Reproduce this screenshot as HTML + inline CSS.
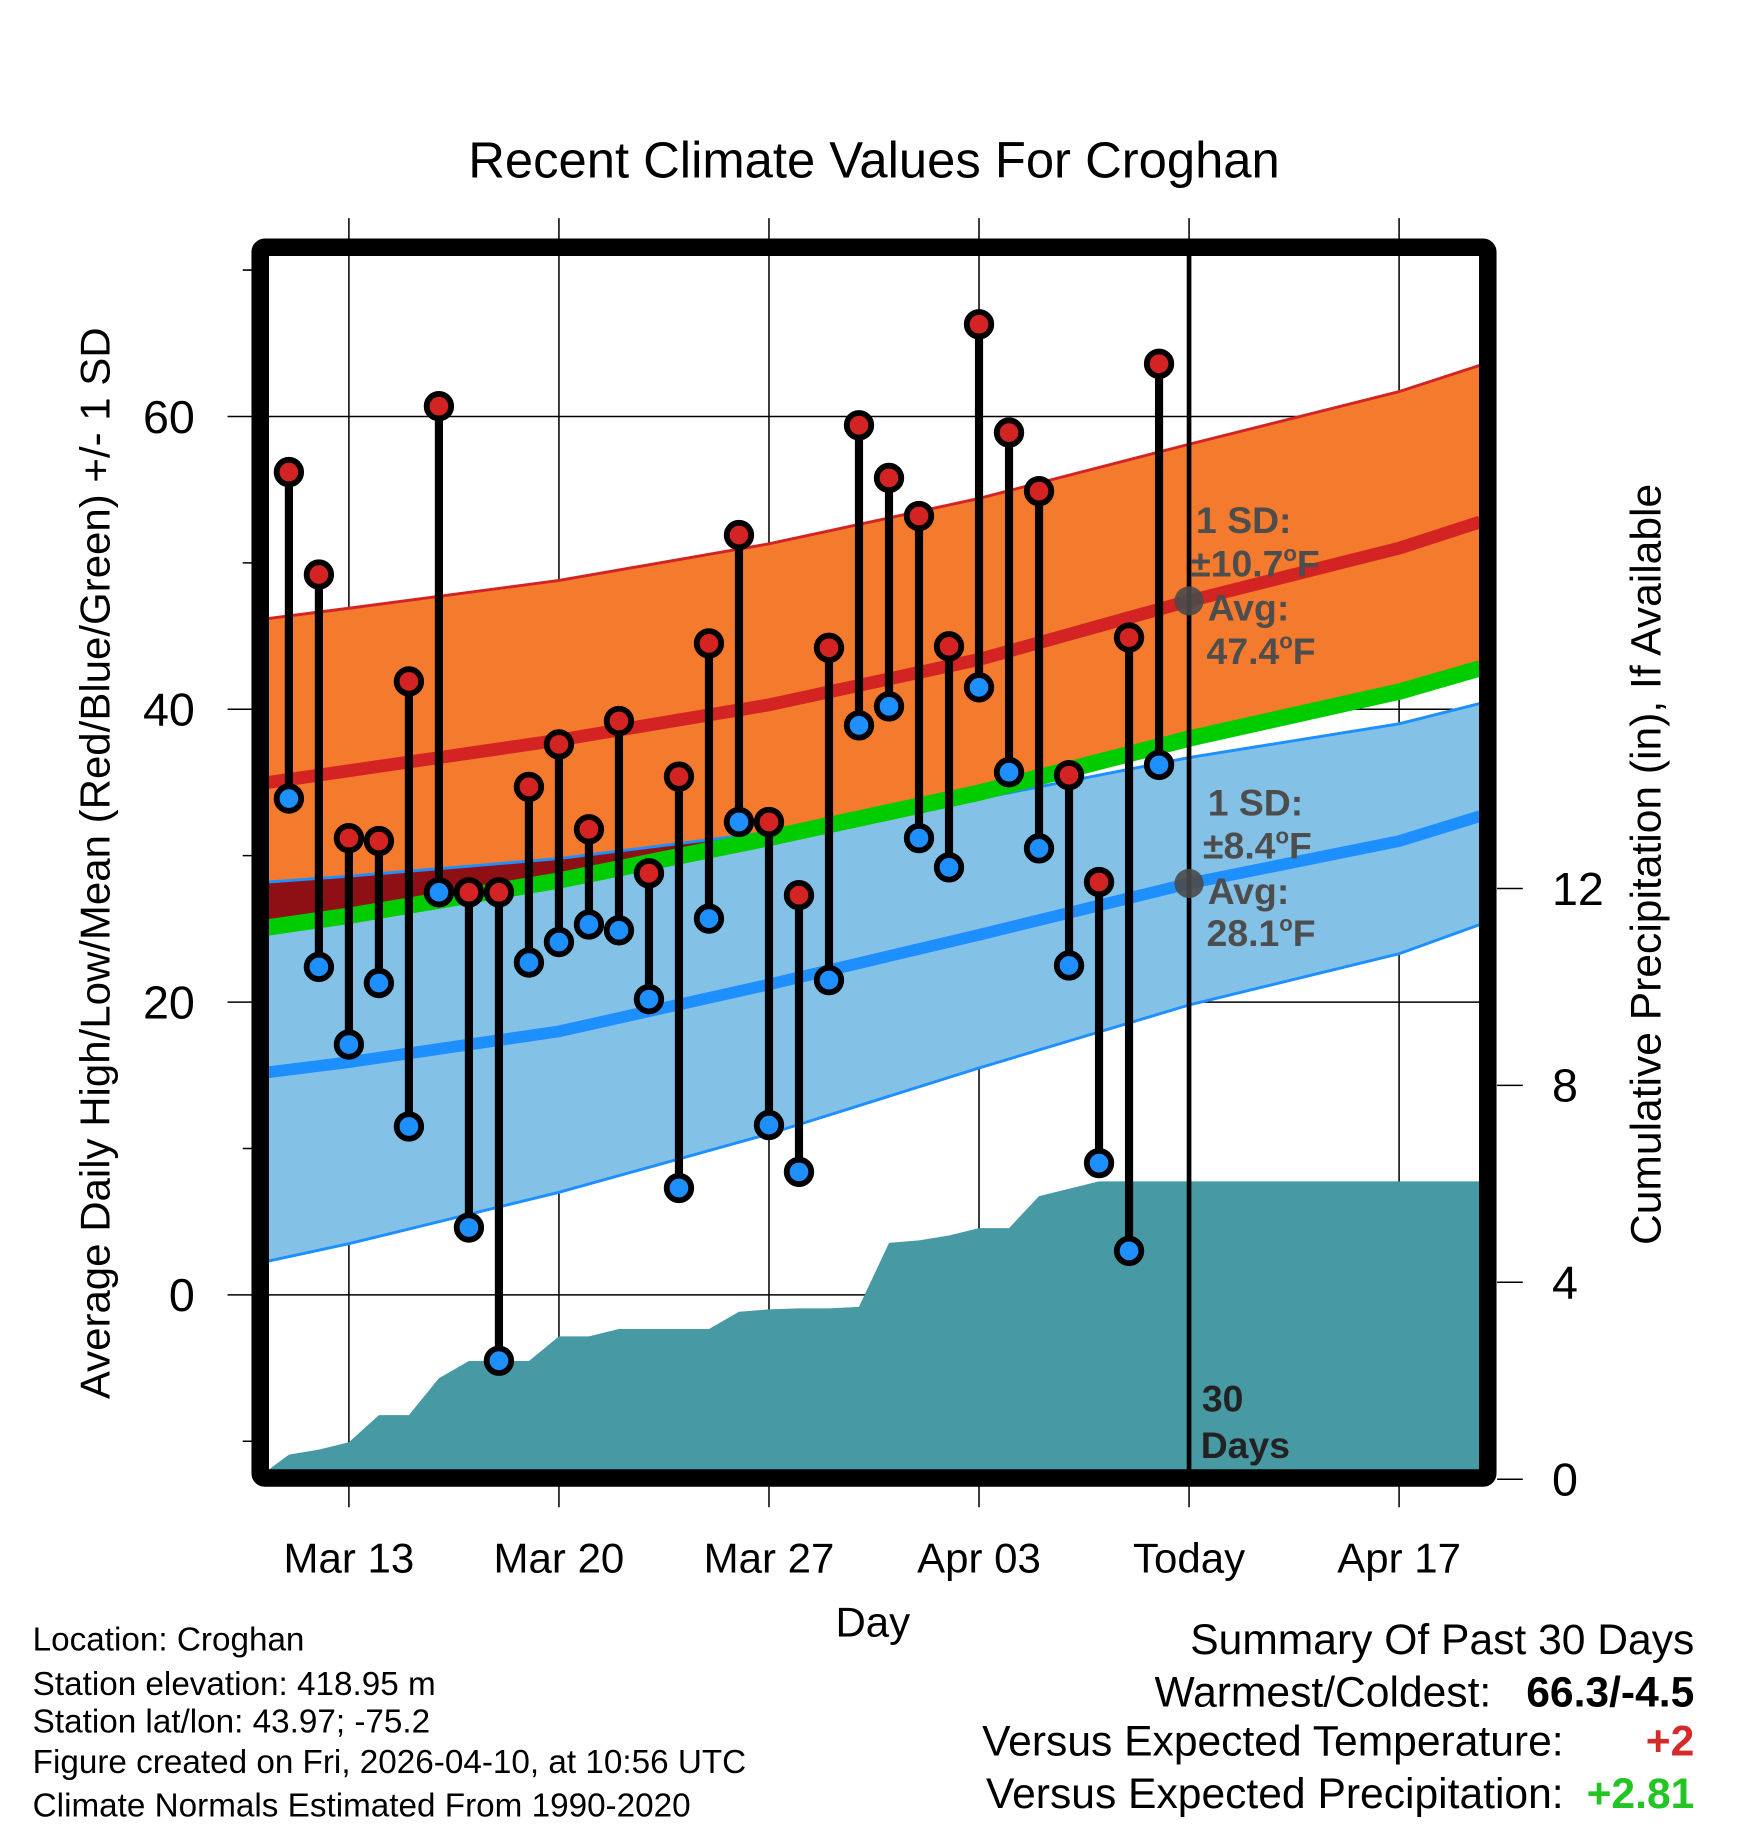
<!DOCTYPE html>
<html><head><meta charset="utf-8"><style>
html,body{margin:0;padding:0;background:#fff;}
svg{display:block;font-family:"Liberation Sans",Arial,sans-serif;}
</style></head><body>
<svg id="chart" width="1748" height="1828" viewBox="0 0 1498 1567" preserveAspectRatio="none" xmlns="http://www.w3.org/2000/svg">
<g id="bg"></g>
<g id="gridg"></g>
<g id="bands"></g>
<g id="marks"></g>
<g id="frameg"></g>
<text x="749" y="152" font-size="43.5" text-anchor="middle">Recent Climate Values For Croghan</text>
<text transform="translate(94,740) rotate(-90)" font-size="36" text-anchor="middle">Average Daily High/Low/Mean (Red/Blue/Green) +/- 1 SD</text>
<text transform="translate(1423,741) rotate(-90)" font-size="36.5" text-anchor="middle">Cumulative Precipitation (in), If Available</text>
<text x="748" y="1403" font-size="36" text-anchor="middle">Day</text>
<g font-size="28.5">
<text x="28" y="1415">Location: Croghan</text>
<text x="28" y="1453">Station elevation: 418.95 m</text>
<text x="28" y="1485">Station lat/lon: 43.97; -75.2</text>
<text x="28" y="1520">Figure created on Fri, 2026-04-10, at 10:56 UTC</text>
<text x="28" y="1557">Climate Normals Estimated From 1990-2020</text>
</g>
<g font-size="36.5">
<text x="1452" y="1418" text-anchor="end">Summary Of Past 30 Days</text>
<text x="1278" y="1463" text-anchor="end">Warmest/Coldest:</text>
<text x="1452" y="1463" text-anchor="end" font-weight="bold">66.3/-4.5</text>
<text x="1340" y="1505" text-anchor="end">Versus Expected Temperature:</text>
<text x="1452" y="1505" text-anchor="end" font-weight="bold" fill="#d42a2a">+2</text>
<text x="1340" y="1550" text-anchor="end">Versus Expected Precipitation:</text>
<text x="1452" y="1550" text-anchor="end" font-weight="bold" fill="#22c522">+2.81</text>
</g>
</svg>
<script>
// data
const dayIdx = [-2,-1,0,1,2,3,4,5,6,7,8,9,10,11,12,13,14,15,16,17,18,19,20,21,22,23,24,25,26,27];
const highs = [56.2,49.2,31.2,31.0,41.9,60.7,27.5,27.5,34.7,37.6,31.8,39.2,28.8,35.4,44.5,51.9,32.3,27.3,44.2,59.4,55.8,53.2,44.3,66.3,58.9,54.9,35.5,28.2,44.9,63.6];
const lows = [33.9,22.4,17.1,21.3,11.5,27.5,4.6,-4.5,22.7,24.1,25.3,24.9,20.2,7.3,25.7,32.3,11.6,8.4,21.5,38.9,40.2,31.2,29.2,41.5,35.7,30.5,22.5,9.0,3.0,36.2];
const precip = [0.5,0.6,0.75,1.3,1.3,2.05,2.4,2.4,2.4,2.9,2.9,3.05,3.05,3.05,3.05,3.4,3.45,3.47,3.47,3.5,4.8,4.85,4.95,5.1,5.1,5.75,5.9,6.05,6.05,6.05];
const normDays = [-2.7,0,7,14,21,28,35,37.7];
const highMean = [35.0,35.8,37.9,40.3,43.4,47.4,51.0,52.8];
const highUpper = [46.2,46.9,48.8,51.3,54.4,58.1,61.7,63.5];
const meanT = [25.1,25.9,28.3,31.2,34.3,38.0,41.2,42.8];
const lowMean = [15.2,15.9,18.0,21.2,24.6,28.1,31.0,32.7];
const lowUpper = [28.2,28.6,29.8,31.6,33.9,36.7,39.0,40.4];
const lowLower = [2.3,3.5,7.0,11.0,15.5,19.8,23.3,25.3];
const todayDay = 28;
const xTickDays = [0,7,14,21,28,35];
const xTickLabels = ["Mar 13","Mar 20","Mar 27","Apr 03","Today","Apr 17"];
const yTicks = [60,40,20,0];
const yMinor = [70,50,30,10,-10];
const pTicks = [0,4,8,12];

const NS="http://www.w3.org/2000/svg";
const X0=230,X1=1268,Y0=218,Y1=1260;
const xS=d=>299+d*25.714;
const yS=v=>1110-v*12.55;
const pS=v=>1268-v*42.2;
function mk(parent,tag,attrs){const e=document.createElementNS(NS,tag);for(const k in attrs)e.setAttribute(k,attrs[k]);document.getElementById(parent).appendChild(e);return e;}
function pts(days,vals,f){return days.map((d,i)=>xS(d).toFixed(1)+","+f(vals[i]).toFixed(1));}

// grid
xTickDays.forEach((d,i)=>{
  let l=mk('gridg','line',{x1:xS(d),x2:xS(d),y1:187,y2:1292,stroke:'#000','stroke-width':1.3});
  
  
  let t=mk('gridg','text',{x:xS(d),y:1348,'font-size':36,'text-anchor':'middle'});
  t.textContent=xTickLabels[i];
  
  
});
yTicks.forEach(v=>{
  let l=mk('gridg','line',{x1:195,x2:X1,y1:yS(v),y2:yS(v),stroke:'#000','stroke-width':1.3});
  
  
  let t=mk('gridg','text',{x:167,y:yS(v)+14,'font-size':40,'text-anchor':'end'});
  t.textContent=v;
  
  
});
yMinor.forEach(v=>{
  let l=mk('gridg','line',{x1:208,x2:X0,y1:yS(v),y2:yS(v),stroke:'#000','stroke-width':1.3});
  
  
});
pTicks.forEach(v=>{
  let l=mk('frameg','line',{x1:1283,x2:1305,y1:pS(v),y2:pS(v),stroke:'#000','stroke-width':1.3});
  
  
  let t=mk('frameg','text',{x:1330,y:pS(v)+14,'font-size':40});
  t.textContent=v;
  
  
});

// bands
const hu=pts(normDays,highUpper,yS), mt=pts(normDays,meanT,yS);
let p=mk('bands','polygon',{points:hu.concat(mt.slice().reverse()).join(' '),fill:'#f47a2e'});


const lu=pts(normDays,lowUpper,yS), ll=pts(normDays,lowLower,yS);
p=mk('bands','polygon',{points:lu.concat(ll.slice().reverse()).join(' '),fill:'#84c1e7'});


const ov=normDays.map((d,i)=>xS(d).toFixed(1)+","+yS(Math.max(lowUpper[i],meanT[i])).toFixed(1));
p=mk('bands','polygon',{points:ov.concat(mt.slice().reverse()).join(' '),fill:'#8f1014'});


// precip area
const pp=[X0+","+Y1].concat(dayIdx.map((d,i)=>xS(d).toFixed(1)+","+pS(precip[i]).toFixed(1)));
pp.push(X1+","+pS(precip[precip.length-1]).toFixed(1)); pp.push(X1+","+Y1);
p=mk('bands','polygon',{points:pp.join(' '),fill:'#479aa3'});


// lines
function pl(arr,col,w,name){let e=mk('bands','polyline',{points:arr.join(' '),fill:'none',stroke:col,'stroke-width':w});}
pl(hu,'#d42323',2.5,'high-upper-line');
pl(lu,'#1e8fff',2.5,'low-upper-line');
pl(ll,'#1e8fff',2.5,'low-lower-line');
pl(mt,'#00cc00',14,'mean-normal-line');
pl(pts(normDays,highMean,yS),'#d42323',11,'high-normal-line');
pl(pts(normDays,lowMean,yS),'#1e8fff',10,'low-normal-line');

// today line
let tl=mk('marks','line',{x1:xS(todayDay),x2:xS(todayDay),y1:Y0,y2:Y1,stroke:'#000','stroke-width':4});



// lollipops
dayIdx.forEach((d,i)=>{
  const x=xS(d);
  let s=mk('marks','line',{x1:x,x2:x,y1:yS(highs[i]),y2:yS(lows[i]),stroke:'#000','stroke-width':7});
  
  
  let c=mk('marks','circle',{cx:x,cy:yS(highs[i]),r:10.5,fill:'#d42323',stroke:'#000','stroke-width':5});
  
  
  c=mk('marks','circle',{cx:x,cy:yS(lows[i]),r:10.5,fill:'#1e8fff',stroke:'#000','stroke-width':5});
  
  
});
[highMean[5],lowMean[5]].forEach(v=>{
  let c=mk('marks','circle',{cx:xS(todayDay),cy:yS(v),r:12.5,fill:'#4a4a4a','fill-opacity':0.9});
  
  
});
function lab(x,y,txt,name,col){let t=mk('marks','text',{x:x,y:y,'font-size':32,'font-weight':'bold',fill:col||'#4d4d4d'});t.innerHTML=txt;}
const deg='<tspan font-size="19" dy="-13">o</tspan><tspan dy="13">F</tspan>';
lab(1025,457,'1 SD:','high-sd-label');
lab(1020,494,'±10.7'+deg,'high-sd-value');
lab(1035,532,'Avg:','high-avg-label');
lab(1034,569,'47.4'+deg,'high-avg-value');
lab(1035,699,'1 SD:','low-sd-label');
lab(1031,736,'±8.4'+deg,'low-sd-value');
lab(1035,775,'Avg:','low-avg-label');
lab(1034,811,'28.1'+deg,'low-avg-value');
lab(1030,1210,'30','days-label','#222');
lab(1029,1250,'Days','days-label2','#222');

// frame
let fr=mk('frameg','rect',{x:223,y:212,width:1052,height:1055,fill:'none',stroke:'#000','stroke-width':15,rx:4});


</script>
</body></html>
